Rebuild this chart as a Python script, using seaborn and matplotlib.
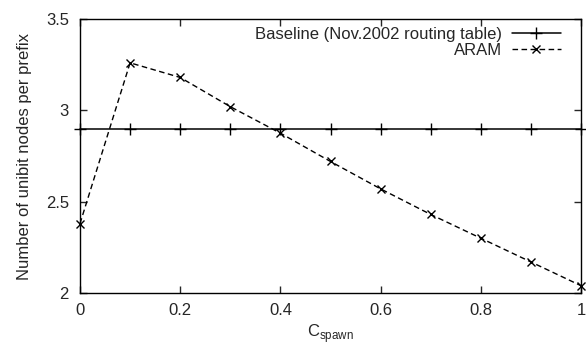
import matplotlib
matplotlib.use("Agg")
import matplotlib.pyplot as plt
import seaborn as sns
import pandas as pd

c_spawn = [0.0, 0.1, 0.2, 0.3, 0.4, 0.5, 0.6, 0.7, 0.8, 0.9, 1.0]
aram = [2.38, 3.26, 3.18, 3.02, 2.875, 2.72, 2.57, 2.43, 2.30, 2.17, 2.04]
baseline = [2.9] * len(c_spawn)
x_ticks = [0, 0.2, 0.4, 0.6, 0.8, 1]
x_tick_labels = ["0", "0.2", "0.4", "0.6", "0.8", "1"]
y_ticks = [2, 2.5, 3, 3.5]
y_tick_labels = ["2", "2.5", "3", "3.5"]
label_base = "Baseline (Nov.2002 routing table)"
label_aram = "ARAM"

sns.set_style("ticks")
plt.rcParams['font.family'] = ['Liberation Sans', 'DejaVu Sans']
plt.rcParams['font.size'] = 12

df_base = pd.DataFrame({"x": c_spawn, "y": baseline})
df_aram = pd.DataFrame({"x": c_spawn, "y": aram})

fig = plt.figure(figsize=(5.86, 3.5), dpi=100)
ax = fig.add_axes([80/586, 1-293/350, 501/586, 274/350])

sns.lineplot(data=df_base, x="x", y="y", ax=ax, color="black", linewidth=1.1,
             linestyle="-", marker="+", markersize=8, markeredgewidth=1,
             markeredgecolor="black", label=label_base, clip_on=False)
sns.lineplot(data=df_aram, x="x", y="y", ax=ax, color="black", linewidth=1,
             linestyle=(0, (4, 2.5)), marker="x", markersize=6, markeredgewidth=1,
             markeredgecolor="black", label=label_aram, clip_on=False)

ax.set_xlim(0, 1)
ax.set_ylim(2, 3.5)
ax.set_xticks(x_ticks)
ax.set_xticklabels(x_tick_labels)
ax.set_yticks(y_ticks)
ax.set_yticklabels(y_tick_labels)
ax.tick_params(axis="both", direction="in", top=True, right=True, length=5, width=1, labelsize=12)
ax.tick_params(axis="x", pad=7)
ax.tick_params(axis="y", pad=8)
for s in ax.spines.values():
    s.set_linewidth(1)
    s.set_color("black")
ax.set_xlabel(r"C$_{\mathregular{spawn}}$", fontsize=12, labelpad=3)
ax.set_ylabel("Number of unibit nodes per prefix", fontsize=12, labelpad=10)

leg = ax.legend(loc="upper right", bbox_to_anchor=(0.973, 0.995), frameon=False,
                markerfirst=False, numpoints=1,
                handlelength=2.95, fontsize=12, borderaxespad=0.0,
                labelspacing=0.05, handletextpad=0.6)
leg._legend_box.align = "right"
for vp in leg._legend_box.get_children()[1].get_children():
    vp.align = "right"

fig.savefig("out.png", dpi=100)
